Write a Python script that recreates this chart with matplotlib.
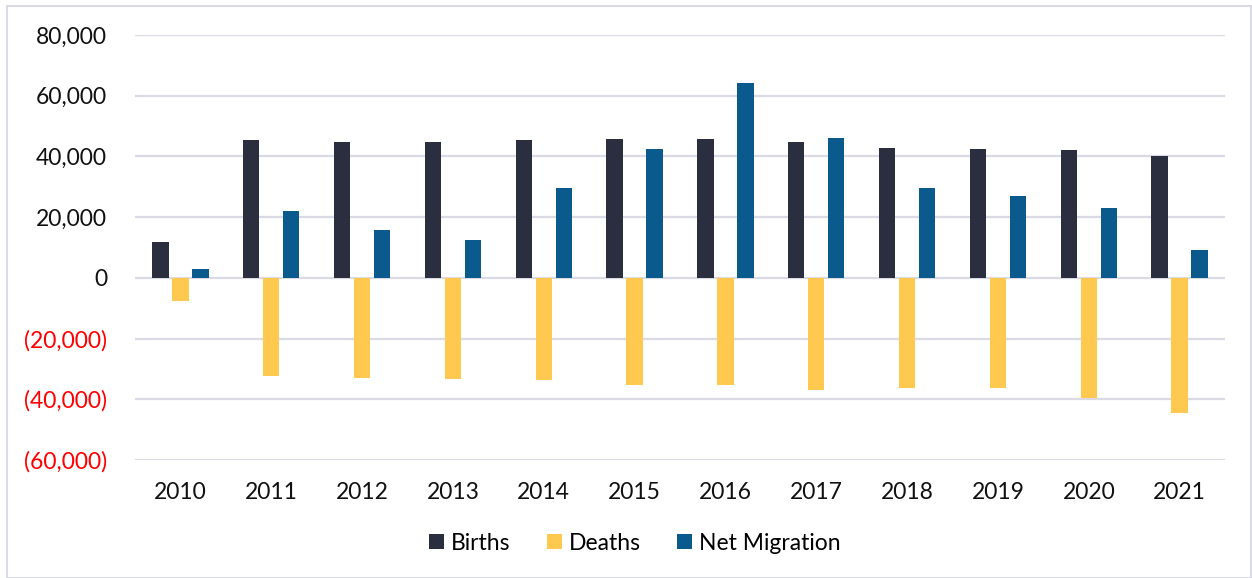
import matplotlib.pyplot as plt
from matplotlib.patches import Rectangle
from matplotlib.ticker import FuncFormatter
import numpy as np

# data
years = ["2010", "2011", "2012", "2013", "2014", "2015",
         "2016", "2017", "2018", "2019", "2020", "2021"]
births = [11900, 45400, 44900, 44900, 45400, 45700,
          45700, 44600, 42900, 42300, 42100, 40000]
deaths = [-7600, -32300, -33000, -33300, -33700, -35300,
          -35300, -36800, -36300, -36300, -39700, -44400]
net_migration = [2900, 22100, 15600, 12600, 29600, 42500,
                 64200, 46200, 29700, 27000, 23100, 9300]

plt.rcParams['font.family'] = ['Lato', 'DejaVu Sans']

fig = plt.figure(figsize=(12.52, 5.78), dpi=100)
ax = fig.add_axes([135 / 1252, 1 - 460 / 578, 1090 / 1252, 425 / 578])

x = np.arange(len(years))
w = 0.18
off = 0.22
ax.bar(x - off, births, w, color="#2A2E3F", label="Births", zorder=3)
ax.bar(x, deaths, w, color="#FFC84F", label="Deaths", zorder=3)
ax.bar(x + off, net_migration, w, color="#0B5A8E", label="Net Migration", zorder=3)

ax.set_xlim(-0.5, len(years) - 0.5)
ax.set_ylim(-60000, 80000)
ax.set_yticks(np.arange(-60000, 80001, 20000))
ax.yaxis.set_major_formatter(FuncFormatter(
    lambda v, p: f"({abs(v):,.0f})" if v < 0 else f"{v:,.0f}"))
ax.set_xticks(x)
ax.set_xticklabels(years)
ax.grid(axis="y", color="#D9DAE4", linewidth=1.6, zorder=0)
for s in ax.spines.values():
    s.set_visible(False)
ax.tick_params(length=0, labelsize=16.5, colors="#111111")
ax.tick_params(axis="y", pad=20)
ax.tick_params(axis="x", pad=16)
for lab, v in zip(ax.get_yticklabels(), ax.get_yticks()):
    if v < 0:
        lab.set_color("#FF0000")

leg = fig.legend(loc="center", bbox_to_anchor=(635 / 1252, 1 - 543 / 578), ncol=3,
                 frameon=False, fontsize=16.5, handlelength=0.65, handleheight=0.65,
                 handletextpad=0.3, columnspacing=1.6)

# light frame round the whole chart
fig.patches.append(Rectangle((7 / 1252, 0.0), 1 - 8 / 1252, 1 - 6 / 578,
                             transform=fig.transFigure, fill=False,
                             edgecolor="#D9DAE4", linewidth=1.5))

fig.savefig("out.png", dpi=100)
